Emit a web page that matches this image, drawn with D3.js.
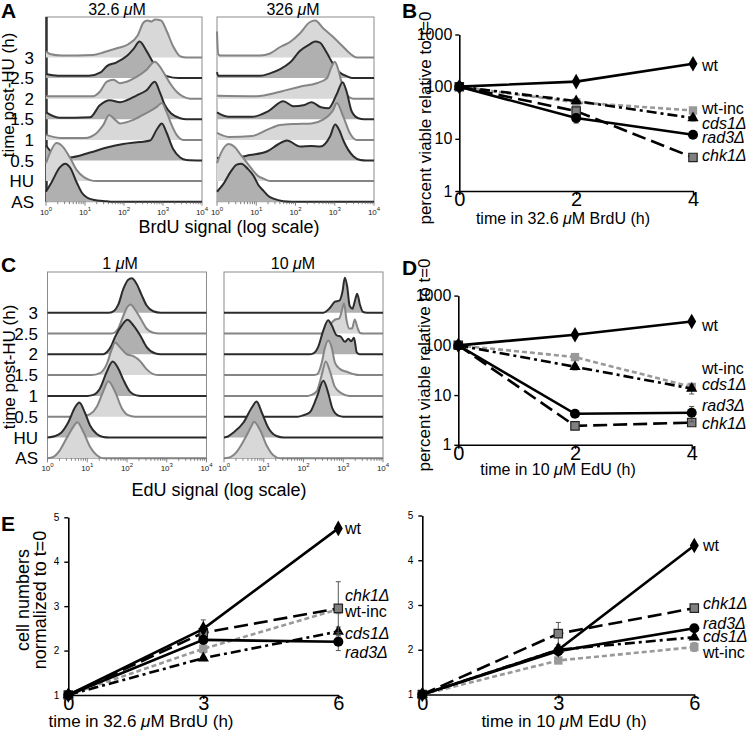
<!DOCTYPE html>
<html>
<head>
<meta charset="utf-8" />
<title></title>
<script src="https://d3js.org/d3.v7.min.js"></script>
<style>
  body { margin: 0; background: #fff; }
  svg { font-family: "Liberation Sans", Arial, Helvetica, sans-serif; }
  .box { fill: none; stroke: #8c8c8c; stroke-width: 1; }
</style>
</head>
<body>
<svg id="fig" width="747" height="731"></svg>
<script>
// ---------- data ----------
var rowLabels = ["3", "2.5", "2", "1.5", "1", "0.5", "HU", "AS"];
var histExp = [0, 1, 2, 3, 4];

// flow histograms, one trace per row (top row first): [log10 signal, counts]
var brdu32 = [
  [[0,6],[0.1,3.5],[0.4,2],[1.2,2.5],[1.5,5.5],[1.8,9],[2.1,13],[2.35,22],[2.5,35],[2.6,37],[2.7,36],[2.8,38],[2.95,37],[3.1,26],[3.25,12],[3.45,1],[3.6,0],[4,0]],
  [[0,4],[0.3,2.3],[1.1,2.3],[1.4,5.7],[1.56,12],[1.8,15.5],[2.07,22],[2.24,29],[2.4,36.5],[2.58,27],[2.75,15.5],[2.92,7],[3.1,2],[3.4,0],[4,0]],
  [[0,2.5],[1.2,2.5],[1.38,7],[1.56,17],[1.73,19],[1.9,15.5],[2.07,17],[2.33,22],[2.58,29],[2.79,37],[2.92,32],[3.05,24],[3.18,15.5],[3.35,7],[3.52,2],[3.7,0],[4,0]],
  [[0,7],[0.36,1.5],[1.13,2],[1.38,14],[1.64,19],[1.9,17],[2.07,19],[2.33,24],[2.58,29],[2.79,37.5],[2.92,27],[3.05,14],[3.22,5.5],[3.44,1],[3.6,0],[4,0]],
  [[0,5],[0.36,2],[1.0,2],[1.3,7],[1.47,15],[1.62,25],[1.75,21],[1.9,16.5],[2.24,20],[2.58,27],[2.84,33],[2.97,37],[3.09,28],[3.22,15],[3.35,5],[3.52,0],[4,0]],
  [[0,15],[0.15,8],[0.4,3],[0.6,3],[1.13,8],[1.56,13],[1.98,16.5],[2.41,18.5],[2.67,20],[2.84,31],[2.97,37],[3.09,28],[3.26,11.5],[3.44,3],[3.6,0.5],[4,0]],
  [[0,18],[0.1,28],[0.27,38],[0.44,34],[0.62,23],[0.79,11],[0.97,4],[1.13,1],[1.3,0],[4,0]],
  [[0,10],[0.15,20],[0.35,34],[0.49,38],[0.62,34],[0.79,19],[0.92,9],[1.04,4.5],[1.21,2],[1.56,0.5],[1.7,0],[4,0]]
];
var brdu326 = [
  [[0,26],[0.03,3],[0.1,2],[1.1,2],[1.35,4],[1.61,10.5],[1.86,15.5],[2.11,24],[2.37,35.5],[2.5,37],[2.71,29],[2.96,20.5],[3.22,10.5],[3.39,4],[3.56,0],[4,0]],
  [[0,6],[0.03,2.3],[1.1,2.3],[1.35,4.7],[1.61,9],[1.86,15.5],[2.11,27],[2.37,34],[2.5,36.5],[2.62,35.5],[2.8,25],[2.96,14],[3.13,5.5],[3.3,2],[3.45,0],[4,0]],
  [[0,3],[1.0,2.5],[1.61,7],[2.11,12],[2.54,15.5],[2.8,20.5],[2.92,32],[3.0,37],[3.09,29],[3.18,15.5],[3.3,4],[3.47,0],[4,0]],
  [[0,7],[0.3,2.5],[0.9,2.5],[1.3,8],[1.69,18],[1.95,13],[2.2,14],[2.41,17],[2.65,12],[2.84,11],[3.05,25],[3.2,37],[3.3,28],[3.43,8],[3.6,1],[3.75,0],[4,0]],
  [[0,7],[0.3,3],[0.9,4],[1.27,10],[1.61,15],[2.0,16],[2.41,16.5],[2.69,20],[2.96,30],[3.05,37],[3.22,23],[3.39,6.5],[3.56,0],[4,0]],
  [[0,2.5],[0.5,3],[0.84,5.5],[1.27,9],[1.55,16],[1.78,20],[2.12,14],[2.4,14.5],[2.63,14],[2.88,24],[3.01,36],[3.12,30],[3.22,20],[3.48,4],[3.65,0.5],[3.8,0],[4,0]],
  [[0,18],[0.1,28],[0.3,37],[0.45,34],[0.59,27],[0.75,19],[0.93,10],[1.05,5],[1.18,2.5],[1.35,0],[4,0]],
  [[0,10],[0.15,17],[0.35,30],[0.5,37],[0.62,38],[0.78,33],[0.93,26],[1.05,17],[1.18,11],[1.3,6],[1.44,3],[1.69,0.5],[1.9,0],[4,0]]
];
var edu1 = [
  [[0,0],[1.55,0],[1.68,2],[1.78,8],[1.91,24],[2.03,33],[2.12,34.5],[2.24,29],[2.37,17.5],[2.49,7.5],[2.66,1.5],[2.85,0],[4,0]],
  [[0,0],[1.62,0],[1.78,5],[1.91,18],[2.01,26.5],[2.09,29],[2.2,24],[2.37,13],[2.49,5],[2.66,0.7],[2.8,0],[4,0]],
  [[0,0],[1.4,0],[1.49,2],[1.6,8],[1.7,17.5],[1.87,29],[2.01,34.5],[2.16,29],[2.33,19],[2.49,7.5],[2.7,1],[2.85,0],[4,0]],
  [[0,0],[1.1,0],[1.32,2],[1.49,11],[1.62,26],[1.7,32.5],[1.83,27.5],[1.99,21],[2.16,19],[2.33,14],[2.49,6],[2.66,1],[2.8,0],[4,0]],
  [[0,0],[1.0,0],[1.15,1],[1.32,7.5],[1.49,24],[1.64,34.5],[1.78,27.5],[1.91,16],[2.08,4],[2.24,0.5],[2.35,0],[4,0]],
  [[0,0],[0.85,0],[1.07,2.5],[1.24,10],[1.4,25],[1.53,35.5],[1.7,25],[1.87,8.5],[2.03,1.5],[2.2,0],[4,0]],
  [[0,0],[0.2,1.5],[0.35,5],[0.52,15],[0.69,30],[0.8,35],[0.94,25],[1.07,12],[1.24,3.5],[1.4,0.5],[1.55,0],[4,0]],
  [[0,0],[0.15,1.5],[0.31,8],[0.48,20],[0.65,31.5],[0.75,36],[0.9,26.5],[1.07,11.5],[1.24,3],[1.4,0],[4,0]]
];
var edu10 = [
  [[0,0],[2.5,0],[2.67,5],[2.79,11],[2.9,12],[2.98,21],[3.04,35],[3.1,26],[3.16,7],[3.23,4],[3.3,13],[3.35,19],[3.42,8],[3.5,0.7],[3.6,0],[4,0]],
  [[0,0],[2.6,0],[2.7,10],[2.8,14],[2.9,15],[2.96,22],[3.02,30],[3.08,14],[3.15,5],[3.22,5],[3.29,14],[3.35,7],[3.42,0.5],[3.5,0],[4,0]],
  [[0,0],[2.15,0],[2.25,1],[2.37,7.5],[2.5,24],[2.62,34],[2.71,29],[2.83,19],[2.94,17.5],[3.04,12.5],[3.13,15.5],[3.2,13],[3.27,16.5],[3.34,2],[3.42,0],[4,0]],
  [[0,0],[2.25,0],[2.35,1],[2.46,12.5],[2.54,27.5],[2.62,34.5],[2.71,27.5],[2.79,12.5],[2.92,6],[3.09,3.3],[3.26,1],[3.4,0],[4,0]],
  [[0,0],[2.1,0],[2.2,1],[2.33,4.5],[2.46,21],[2.56,34.5],[2.67,24],[2.79,9],[2.96,2.5],[3.15,0],[4,0]],
  [[0,0],[1.85,0],[2.0,1.5],[2.16,4.5],[2.33,19],[2.5,36],[2.62,24],[2.73,8],[2.88,1],[3.0,0],[4,0]],
  [[0,0],[0.1,1],[0.24,5],[0.49,15],[0.7,30],[0.82,36],[0.95,25],[1.11,10],[1.32,1.5],[1.5,0],[4,0]],
  [[0,0],[0.11,0.5],[0.32,6.5],[0.53,20],[0.7,33],[0.75,36.5],[0.91,28],[1.07,13],[1.24,3],[1.41,0],[4,0]]
];
var brduShades = ["light", "dark", "light", "dark", "light", "dark", "light", "dark"];
var edu1Shades = ["dark", "light", "dark", "light", "dark", "light", "dark", "light"];
var edu10Shades = ["dark", "light", "dark", "light", "light", "dark", "dark", "light"];

// viability and growth, rows in strain order
var strains = ["wt", "wt-inc", "cds1Δ", "rad3Δ", "chk1Δ"];
var viabTime = [0, 2, 4];
var growTime = [0, 3, 6];
var viabBrdU = [[100, 125, 276], [100, 50, 35], [100, 53, 25], [100, 25, 12], [100, 34, 4.4]];
var viabBrdUErr = [[0, 0, 0], [0, 0, 5], [0, 0, 3], [0, 5, 1.5], [0, 4, 0.5]];
var viabEdU = [[100, 163, 302], [100, 58, 14.6], [100, 37, 13.5], [100, 4.2, 4.4], [100, 2.4, 2.8]];
var viabEdUErr = [[0, 0, 0], [0, 6, 2], [0, 5, 3], [0, 0, 1.5], [0, 0.3, 0.4]];
var growBrdU = [[1, 2.49, 4.75], [1, 2.04, 2.93], [1, 1.83, 2.43], [1, 2.24, 2.2], [1, 2.4, 2.95]];
var growBrdUErr = [[0, 0.2, 0], [0, 0.1, 0.1], [0, 0, 0.1], [0, 0.05, 0.2], [0, 0.1, 0.6]];
var growEdU = [[1, 2.0, 4.33], [1, 1.76, 2.06], [1, 2.0, 2.28], [1, 1.97, 2.48], [1, 2.36, 2.93]];
var growEdUErr = [[0, 0, 0], [0, 0.05, 0.1], [0, 0, 0.05], [0, 0, 0.05], [0, 0.25, 0.05]];

// ---------- styles ----------
var strainStyle = [
  { stroke: "#000", dash: null, sym: d3.symbolDiamond, size: 70, fill: "#000", edge: "none" },
  { stroke: "#999", dash: "5,3", sym: d3.symbolSquare, size: 70, fill: "#999", edge: "none" },
  { stroke: "#000", dash: "10,4,3,4", sym: d3.symbolTriangle, size: 55, fill: "#000", edge: "none" },
  { stroke: "#000", dash: null, sym: d3.symbolCircle, size: 80, fill: "#000", edge: "none" },
  { stroke: "#000", dash: "14,6", sym: d3.symbolSquare, size: 70, fill: "#808080", edge: "#222" }
];
var drawOrder = [1, 2, 4, 0, 3];
var shadeFill = { light: "#d8d8d8", dark: "#b0b0b0" };
var shadeLine = { light: "#858585", dark: "#2b2b2b" };

var svg = d3.select("#fig");

function label(g, x, y, txt, size, opts) {
  opts = opts || {};
  var t = g.append("text").attr("x", x).attr("y", y)
    .attr("font-size", size).attr("fill", "#000")
    .attr("text-anchor", opts.anchor || "start");
  if (opts.weight) t.attr("font-weight", opts.weight);
  if (opts.italic) t.attr("font-style", "italic");
  if (opts.rotate) t.attr("transform", "rotate(-90," + x + "," + y + ")");
  if (opts.mu) {
    t.append("tspan").text(txt[0]);
    t.append("tspan").attr("font-style", "italic").text("μ");
    t.append("tspan").text(txt[1]);
  } else {
    t.text(txt);
  }
  return t;
}

function histPanel(rows, shades, xr, rowRange, boxTop, thickLeft) {
  var g = svg.append("g");
  var x = d3.scaleLog().domain([1, 1e4]).range(xr);
  var row = d3.scalePoint().domain(rowLabels).range(rowRange);
  var h = d3.scaleLinear().domain([0, 40]).range([0, 40]);
  g.append("rect").attr("class", "box")
    .attr("x", xr[0]).attr("y", boxTop)
    .attr("width", xr[1] - xr[0]).attr("height", rowRange[1] - boxTop);
  if (thickLeft) {
    g.append("line").attr("x1", xr[0] + 0.5).attr("x2", xr[0] + 0.5)
      .attr("y1", boxTop).attr("y2", rowRange[1])
      .attr("stroke", "#333").attr("stroke-width", 2.5);
  }
  rows.forEach(function (pts, i) {
    var b = row(rowLabels[i]);
    var area = d3.area()
      .x(function (d) { return x(Math.pow(10, d[0])); })
      .y0(b)
      .y1(function (d) { return b - h(d[1]); })
      .curve(d3.curveMonotoneX);
    g.append("path").attr("d", area(pts)).attr("fill", shadeFill[shades[i]]);
    g.append("path").attr("d", area.lineY1()(pts))
      .attr("fill", "none").attr("stroke", shadeLine[shades[i]])
      .attr("stroke-width", 2).attr("stroke-linejoin", "round");
  });
  // log ticks along the bottom
  var yb = rowRange[1];
  x.ticks().forEach(function (t) {
    var major = Math.abs(Math.log10(t) - Math.round(Math.log10(t))) < 1e-9;
    g.append("line").attr("x1", x(t)).attr("x2", x(t))
      .attr("y1", yb).attr("y2", yb + (major ? 4 : 2.5))
      .attr("stroke", "#666").attr("stroke-width", 0.8);
  });
  histExp.forEach(function (e) {
    var t = g.append("text").attr("x", x(Math.pow(10, e))).attr("y", yb + 13)
      .attr("text-anchor", "middle").attr("font-size", 8).attr("fill", "#222");
    t.append("tspan").text("10");
    t.append("tspan").attr("font-size", 6).attr("dy", -4).text(e);
  });
  return row;
}

function rowLabelText(row, xEnd) {
  rowLabels.forEach(function (r) {
    svg.append("text").attr("x", xEnd).attr("y", row(r) + 6)
      .attr("text-anchor", "end").attr("font-size", 17).text(r);
  });
}

function linePanel(o) {
  var g = svg.append("g");
  var x = d3.scaleLinear().domain([0, o.times[2]]).range(o.xr);
  var y = o.log ? d3.scaleLog().domain([1, 1000]).range(o.yr)
                : d3.scaleLinear().domain([1, 5]).range(o.yr);
  var ya = g.append("g").attr("transform", "translate(" + o.xr[0] + ",0)")
    .call(d3.axisLeft(y).tickValues(o.yTicks).tickSize(4).tickSizeOuter(0)
      .tickFormat(d3.format("d")));
  ya.attr("font-family", null);
  ya.select(".domain").attr("stroke-width", 1.6);
  ya.selectAll(".tick line").attr("stroke-width", 1.4);
  ya.selectAll(".tick text").attr("font-size", o.yTickSize).attr("dx", o.yTickDx || 0);

  var xa = g.append("g").attr("transform", "translate(0," + o.yr[0] + ")")
    .call(d3.axisBottom(x).tickValues(o.times).tickSize(4).tickSizeOuter(0)
      .tickFormat(d3.format("d")));
  xa.attr("font-family", null);
  xa.select(".domain").attr("stroke-width", 1.6);
  xa.selectAll(".tick line").attr("stroke-width", 1.4);
  xa.selectAll(".tick text").attr("font-size", 20).attr("y", 1);

  drawOrder.forEach(function (i) {
    var st = strainStyle[i];
    var line = d3.line()
      .x(function (d, j) { return x(o.times[j]); })
      .y(function (d) { return y(d); });
    g.append("path").attr("d", line(o.values[i]))
      .attr("fill", "none").attr("stroke", st.stroke)
      .attr("stroke-width", 2.6).attr("stroke-dasharray", st.dash);
    o.values[i].forEach(function (v, j) {
      var e = o.errors[i][j];
      if (e > 0) {
        var cx = x(o.times[j]);
        g.append("path")
          .attr("d", "M" + cx + "," + y(v - e) + "V" + y(v + e) +
                     "M" + (cx - 2.5) + "," + y(v + e) + "h5M" + (cx - 2.5) + "," + y(v - e) + "h5")
          .attr("stroke", st.stroke === "#999" ? "#999" : "#555").attr("stroke-width", 1).attr("fill", "none");
      }
    });
    g.selectAll(null).data(o.values[i]).enter().append("path")
      .attr("d", d3.symbol().type(st.sym).size(st.size))
      .attr("transform", function (d, j) { return "translate(" + x(o.times[j]) + "," + y(d) + ")"; })
      .attr("fill", st.fill).attr("stroke", st.edge).attr("stroke-width", 1.2);
  });

  strains.forEach(function (s, i) {
    var italic = s.indexOf("Δ") >= 0;
    label(g, o.labelX, o.labelY[i] + 6, s, 16, { italic: italic });
  });
}

// ---------- panel A ----------
label(svg, 1, 18, "A", 21, { weight: "bold" });
var rowA = histPanel(brdu32, brduShades, [46, 202], [57.5, 201.7], 17, true);
histPanel(brdu326, brduShades, [217, 374], [57.5, 201.7], 17, false);
label(svg, 117, 15, ["32.6 ", "M"], 16, { anchor: "middle", mu: true });
label(svg, 293, 15, ["326 ", "M"], 16, { anchor: "middle", mu: true });
rowLabelText(rowA, 34);
label(svg, 14, 95, "time post-HU (h)", 17, { anchor: "middle", rotate: true });
label(svg, 229, 233, "BrdU signal (log scale)", 18, { anchor: "middle" });

// ---------- panel C ----------
label(svg, 1, 272, "C", 21, { weight: "bold" });
var rowC = histPanel(edu1, edu1Shades, [47.5, 206.5], [312.7, 458.3], 272, false);
histPanel(edu10, edu10Shades, [224, 383], [312.7, 458.3], 272, false);
label(svg, 120, 269, ["1 ", "M"], 16, { anchor: "middle", mu: true });
label(svg, 293, 269, ["10 ", "M"], 16, { anchor: "middle", mu: true });
rowLabelText(rowC, 38);
label(svg, 15, 367, "time post-HU (h)", 17, { anchor: "middle", rotate: true });
label(svg, 219, 496, "EdU signal (log scale)", 18, { anchor: "middle" });

// ---------- panel B ----------
label(svg, 402, 18, "B", 21, { weight: "bold" });
linePanel({
  times: viabTime, values: viabBrdU, errors: viabBrdUErr, log: true,
  xr: [459.3, 693], yr: [191, 34.5], yTicks: [1, 10, 100, 1000], yTickSize: 16,
  labelX: 702, labelY: [65, 108, 123, 137, 155]
});
label(svg, 431, 118, "percent viable relative to t=0", 17, { anchor: "middle", rotate: true });
label(svg, 563, 224, ["time in 32.6 ", "M BrdU (h)"], 16, { anchor: "middle", mu: true });

// ---------- panel D ----------
label(svg, 402, 275, "D", 21, { weight: "bold" });
linePanel({
  times: viabTime, values: viabEdU, errors: viabEdUErr, log: true,
  xr: [458.3, 691.7], yr: [444.8, 295.6], yTicks: [1, 10, 100, 1000], yTickSize: 16,
  labelX: 702, labelY: [325, 368, 384, 405, 423]
});
label(svg, 430, 365, "percent viable relative to t=0", 17, { anchor: "middle", rotate: true });
label(svg, 558, 475, ["time in 10 ", "M EdU (h)"], 16, { anchor: "middle", mu: true });

// ---------- panel E ----------
label(svg, 1, 531, "E", 21, { weight: "bold" });
linePanel({
  times: growTime, values: growBrdU, errors: growBrdUErr, log: false,
  xr: [68.3, 338.3], yr: [695, 517.3], yTicks: [1, 2, 3, 4, 5], yTickSize: 10, yTickDx: -2,
  labelX: 345, labelY: [528, 611, 633, 652, 595]
});
linePanel({
  times: growTime, values: growEdU, errors: growEdUErr, log: false,
  xr: [422.3, 694.3], yr: [694.5, 515.5], yTicks: [1, 2, 3, 4, 5], yTickSize: 10, yTickDx: -2,
  labelX: 703, labelY: [545, 652, 636, 623, 603]
});
label(svg, 29, 600, "cell numbers", 18, { anchor: "middle", rotate: true });
label(svg, 46, 600, "normalized to t=0", 18, { anchor: "middle", rotate: true });
label(svg, 141, 727, ["time in 32.6 ", "M BrdU (h)"], 17, { anchor: "middle", mu: true });
label(svg, 564, 727, ["time in 10 ", "M EdU (h)"], 17, { anchor: "middle", mu: true });
</script>
</body>
</html>
